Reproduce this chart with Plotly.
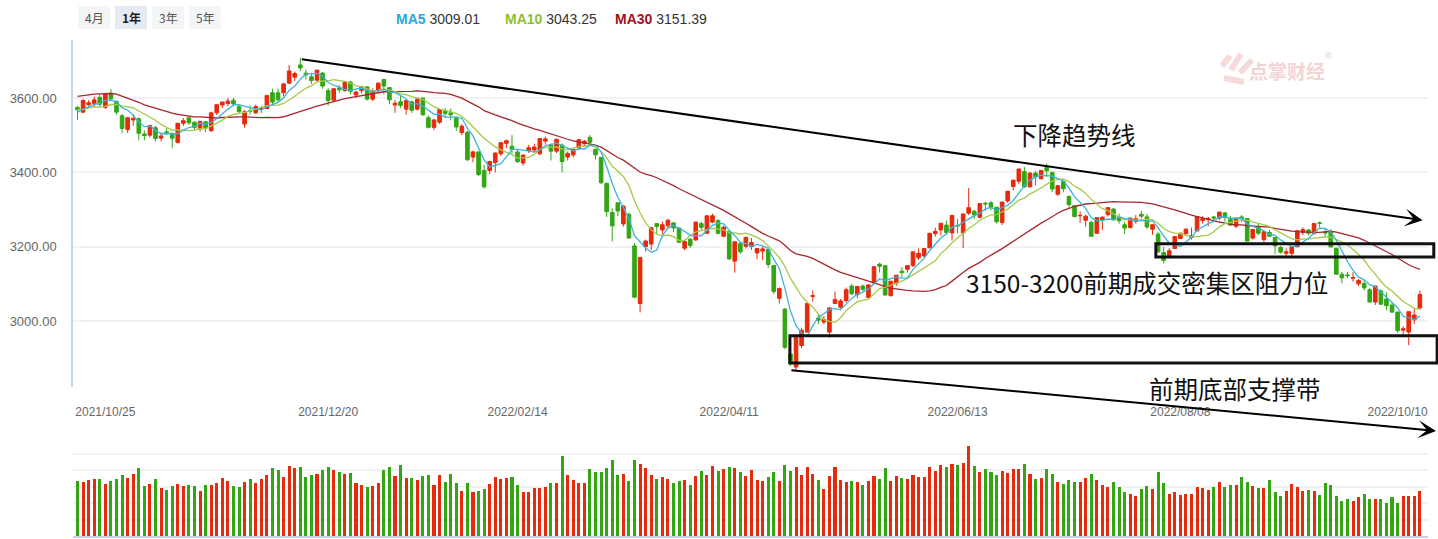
import pandas as pd
import numpy as np
import plotly.graph_objects as go

# ---------------- data ----------------
holidays = ["2022-01-03", "2022-01-31", "2022-02-01", "2022-02-02", "2022-02-03", "2022-02-04",
            "2022-04-04", "2022-04-05", "2022-05-02", "2022-05-03", "2022-05-04", "2022-06-03",
            "2022-09-12", "2022-10-03", "2022-10-04", "2022-10-05", "2022-10-06", "2022-10-07"]
dates = [d.strftime("%Y/%m/%d") for d in pd.bdate_range("2021-10-18", "2022-10-14")
         if d.strftime("%Y-%m-%d") not in holidays]

opens = [3575, 3562, 3582, 3585, 3602, 3575, 3613, 3591, 3552, 3515,
         3541, 3544, 3503, 3500, 3520, 3492, 3509, 3505, 3480, 3532,
         3547, 3535, 3517, 3536, 3512, 3560, 3581, 3585, 3594, 3577,
         3530, 3566, 3560, 3570, 3572, 3614, 3614, 3614, 3640, 3656,
         3689, 3667, 3657, 3648, 3667, 3620, 3594, 3627, 3620, 3643,
         3608, 3620, 3630, 3597, 3620, 3650, 3628, 3581, 3590, 3570,
         3590, 3570, 3600, 3547, 3521, 3535, 3565, 3560, 3546, 3507,
         3508, 3441, 3455, 3405, 3405, 3426, 3450, 3478, 3470, 3455,
         3425, 3458, 3460, 3450, 3484, 3474, 3457, 3473, 3441, 3447,
         3466, 3478, 3494, 3462, 3440, 3370, 3292, 3318, 3261, 3287,
         3202, 3047, 3200, 3207, 3262, 3245, 3256, 3264, 3250, 3196,
         3220, 3218, 3262, 3236, 3266, 3270, 3228, 3240, 3161, 3208,
         3201, 3200, 3183, 3188, 3192, 3149, 3061, 3032, 2911, 2876,
         2934, 2970, 3066, 3008, 2997, 2970, 3047, 3037, 3055, 3094,
         3071, 3094, 3063, 3102, 3153, 3149, 3068, 3101, 3134, 3139,
         3149, 3170, 3175, 3197, 3235, 3245, 3258, 3237, 3257, 3237,
         3290, 3295, 3279, 3317, 3318, 3306, 3265, 3323, 3362, 3376,
         3402, 3361, 3398, 3383, 3413, 3400, 3341, 3375, 3335, 3310,
         3283, 3271, 3265, 3236, 3273, 3286, 3301, 3276, 3259, 3251,
         3268, 3287, 3280, 3247, 3234, 3184, 3174, 3195, 3222, 3235,
         3225, 3242, 3270, 3274, 3280, 3277, 3291, 3276, 3255, 3280,
         3276, 3223, 3253, 3219, 3238, 3225, 3198, 3182, 3182, 3200,
         3238, 3245, 3236, 3264, 3239, 3240, 3196, 3126, 3124, 3115,
         3100, 3101, 3084, 3051, 3081, 3059, 3043, 3024, 2975, 2970,
         3003, 3035]
highs = [3578, 3598, 3594, 3604, 3610, 3614, 3624, 3593, 3557, 3548,
         3557, 3548, 3513, 3528, 3525, 3508, 3519, 3506, 3533, 3546,
         3551, 3537, 3539, 3538, 3563, 3584, 3590, 3600, 3600, 3581,
         3568, 3580, 3582, 3578, 3608, 3625, 3625, 3640, 3689, 3671,
         3708, 3676, 3668, 3676, 3670, 3627, 3627, 3635, 3644, 3646,
         3620, 3633, 3631, 3626, 3642, 3651, 3628, 3594, 3606, 3594,
         3593, 3601, 3601, 3553, 3544, 3571, 3573, 3572, 3549, 3530,
         3512, 3458, 3456, 3420, 3431, 3453, 3481, 3488, 3500, 3462,
         3449, 3474, 3477, 3492, 3496, 3478, 3490, 3478, 3456, 3463,
         3490, 3487, 3500, 3463, 3441, 3373, 3303, 3318, 3311, 3292,
         3210, 3171, 3219, 3253, 3262, 3267, 3275, 3264, 3252, 3219,
         3223, 3267, 3267, 3284, 3289, 3274, 3256, 3241, 3214, 3214,
         3227, 3223, 3196, 3200, 3194, 3150, 3090, 3035, 2939, 2961,
         2982, 3049, 3082, 3019, 3013, 3038, 3079, 3059, 3090, 3100,
         3094, 3098, 3099, 3148, 3157, 3149, 3108, 3124, 3145, 3149,
         3186, 3195, 3195, 3237, 3251, 3263, 3270, 3285, 3275, 3288,
         3358, 3300, 3317, 3321, 3323, 3307, 3320, 3350, 3380, 3409,
         3414, 3400, 3404, 3406, 3424, 3401, 3365, 3376, 3338, 3311,
         3295, 3286, 3269, 3278, 3282, 3305, 3304, 3289, 3266, 3277,
         3285, 3296, 3288, 3260, 3239, 3199, 3196, 3229, 3238, 3249,
         3251, 3281, 3282, 3280, 3283, 3293, 3291, 3283, 3277, 3285,
         3276, 3248, 3261, 3242, 3245, 3226, 3202, 3195, 3202, 3243,
         3252, 3247, 3264, 3268, 3247, 3247, 3196, 3132, 3132, 3131,
         3113, 3110, 3089, 3094, 3085, 3077, 3051, 3025, 2986, 3025,
         3032, 3082]
lows = [3541, 3559, 3577, 3575, 3575, 3570, 3594, 3555, 3505, 3506,
        3525, 3486, 3486, 3494, 3483, 3483, 3500, 3466, 3478, 3525,
        3528, 3513, 3510, 3508, 3509, 3554, 3573, 3578, 3578, 3559,
        3520, 3556, 3557, 3560, 3570, 3580, 3590, 3605, 3638, 3645,
        3672, 3650, 3638, 3645, 3625, 3580, 3590, 3614, 3617, 3610,
        3600, 3612, 3593, 3592, 3616, 3610, 3583, 3560, 3573, 3555,
        3560, 3566, 3552, 3518, 3514, 3530, 3547, 3540, 3511, 3500,
        3430, 3427, 3390, 3356, 3395, 3400, 3444, 3465, 3450, 3425,
        3418, 3452, 3453, 3446, 3475, 3432, 3452, 3400, 3432, 3440,
        3460, 3468, 3475, 3435, 3369, 3280, 3214, 3282, 3254, 3222,
        3061, 3023, 3187, 3191, 3234, 3234, 3248, 3239, 3209, 3190,
        3196, 3216, 3244, 3235, 3263, 3233, 3225, 3164, 3130, 3180,
        3195, 3191, 3166, 3164, 3143, 3073, 3047, 2924, 2879, 2863,
        2927, 2969, 3052, 2992, 2991, 2955, 3046, 3033, 3050, 3070,
        3061, 3080, 3062, 3102, 3130, 3067, 3066, 3094, 3118, 3130,
        3145, 3164, 3172, 3195, 3227, 3230, 3232, 3217, 3236, 3196,
        3285, 3274, 3276, 3296, 3298, 3262, 3258, 3318, 3351, 3368,
        3358, 3359, 3365, 3380, 3388, 3347, 3337, 3346, 3303, 3279,
        3264, 3254, 3227, 3234, 3245, 3281, 3271, 3262, 3234, 3250,
        3262, 3275, 3248, 3232, 3184, 3155, 3168, 3195, 3222, 3229,
        3219, 3242, 3262, 3255, 3266, 3272, 3267, 3256, 3250, 3266,
        3214, 3219, 3231, 3212, 3226, 3180, 3181, 3174, 3170, 3198,
        3231, 3230, 3232, 3251, 3226, 3199, 3124, 3101, 3115, 3106,
        3094, 3082, 3050, 3043, 3045, 3029, 3021, 2968, 2960, 2935,
        2992, 3031]
closes = [3568, 3593, 3587, 3595, 3583, 3610, 3598, 3562, 3518, 3547,
          3545, 3505, 3499, 3526, 3491, 3498, 3507, 3492, 3532, 3539,
          3533, 3521, 3537, 3520, 3560, 3582, 3589, 3592, 3584, 3564,
          3563, 3564, 3577, 3573, 3607, 3589, 3595, 3638, 3673, 3666,
          3681, 3662, 3647, 3675, 3632, 3593, 3625, 3622, 3643, 3618,
          3616, 3630, 3597, 3619, 3640, 3632, 3595, 3586, 3580, 3593,
          3567, 3597, 3555, 3521, 3541, 3569, 3558, 3555, 3522, 3524,
          3434, 3455, 3394, 3361, 3429, 3452, 3480, 3485, 3462, 3429,
          3446, 3466, 3468, 3491, 3490, 3457, 3489, 3429, 3451, 3462,
          3488, 3484, 3481, 3447, 3372, 3294, 3256, 3296, 3309, 3223,
          3064, 3171, 3215, 3251, 3254, 3259, 3271, 3250, 3212, 3214,
          3203, 3266, 3252, 3283, 3283, 3236, 3252, 3167, 3213, 3186,
          3225, 3211, 3195, 3194, 3152, 3079, 3087, 2929, 2886, 2958,
          2975, 3047, 3068, 3002, 3004, 3035, 3058, 3054, 3084, 3073,
          3093, 3085, 3097, 3146, 3147, 3070, 3107, 3123, 3130, 3149,
          3186, 3182, 3195, 3236, 3241, 3263, 3238, 3284, 3256, 3288,
          3305, 3285, 3316, 3315, 3306, 3267, 3320, 3349, 3379, 3409,
          3361, 3398, 3388, 3405, 3404, 3355, 3364, 3356, 3313, 3281,
          3284, 3282, 3228, 3278, 3279, 3305, 3272, 3270, 3250, 3277,
          3275, 3282, 3253, 3259, 3186, 3163, 3189, 3227, 3236, 3247,
          3230, 3281, 3276, 3276, 3277, 3293, 3278, 3258, 3277, 3276,
          3215, 3246, 3236, 3240, 3228, 3202, 3185, 3186, 3199, 3243,
          3246, 3236, 3262, 3263, 3237, 3199, 3126, 3116, 3122, 3117,
          3109, 3089, 3051, 3094, 3045, 3041, 3024, 2974, 2979, 3025,
          3016, 3071]
volumes = [333, 327, 339, 345, 345, 315, 333, 345, 370, 351,
           376, 412, 303, 315, 345, 291, 279, 303, 315, 303,
           309, 303, 273, 309, 309, 321, 351, 333, 303, 297,
           327, 345, 321, 345, 370, 412, 400, 358, 424, 412,
           418, 358, 370, 376, 400, 418, 400, 388, 376, 382,
           321, 309, 297, 303, 321, 400, 418, 364, 430, 351,
           351, 339, 364, 370, 309, 370, 327, 376, 321, 273,
           321, 267, 273, 285, 315, 358, 345, 351, 358, 309,
           267, 267, 291, 291, 297, 321, 321, 485, 370, 339,
           321, 321, 406, 388, 388, 412, 461, 370, 376, 333,
           461, 436, 412, 370, 345, 358, 345, 321, 333, 339,
           309, 364, 394, 370, 424, 394, 406, 418, 412, 388,
           364, 400, 339, 333, 358, 388, 333, 430, 394, 416,
           370, 416, 376, 339, 285, 364, 416, 339, 327, 333,
           327, 309, 333, 364, 345, 412, 333, 364, 351, 345,
           370, 358, 358, 416, 394, 430, 416, 436, 430, 442,
           545, 424, 388, 406, 388, 370, 394, 382, 406, 406,
           436, 376, 345, 351, 406, 376, 327, 315, 339, 327,
           327, 351, 376, 339, 309, 297, 327, 297, 267, 255,
           242, 285, 303, 285, 388, 321, 255, 267, 248, 255,
           255, 297, 291, 279, 297, 327, 297, 309, 309, 358,
           327, 303, 291, 291, 339, 267, 242, 273, 315, 297,
           273, 279, 273, 248, 321, 309, 242, 212, 224, 212,
           236, 255, 224, 224, 224, 200, 236, 200, 242, 242,
           242, 273]
# closes of the 29 sessions before the first candle (for the moving averages)
pre_closes = [3522, 3528, 3544, 3567, 3597, 3581, 3621, 3676, 3693, 3693,
              3703, 3715, 3662, 3656, 3607, 3613, 3628, 3642, 3613, 3582,
              3602, 3536, 3568, 3592, 3591, 3547, 3561, 3558, 3572]
tick_dates = ["2021/10/25", "2021/12/20", "2022/02/14", "2022/04/11",
              "2022/06/13", "2022/08/08", "2022/10/10"]
ma_header = {"MA5": "3009.01", "MA10": "3043.25", "MA30": "3151.39"}

# ---------------- derived ----------------
n = len(dates)
xs = list(range(n))
allc = pd.Series(pre_closes + closes, dtype=float)
ma5 = allc.rolling(5).mean().iloc[len(pre_closes):].tolist()
ma10 = allc.rolling(10).mean().iloc[len(pre_closes):].tolist()
ma30 = allc.rolling(30).mean().iloc[len(pre_closes):].tolist()

RED = "#e62a0c"
GREEN = "#33a614"
vol_colors = [RED if c >= o else GREEN for o, c in zip(opens, closes)]

# ---------------- geometry ----------------
W, H = 1438, 539
ML, MR = 73, 10
PW = W - ML - MR
X0, X1 = -0.81, 242.46
Y0, Y1 = 2822.3, 3756.1
D0, D1 = 1 - 387 / H, 1 - 40 / H
V0, V1 = 1 - 536 / H, 1 - 437 / H


def px_x(px):
    return (px - ML) / PW


def px_y(py):
    return 1 - py / H


def dx(i):
    return (i - X0) / (X1 - X0)


def dy(p):
    return D0 + (p - Y0) / (Y1 - Y0) * (D1 - D0)


def to_px(i, p):
    return ML + dx(i) * PW, (1 - dy(p)) * H


fig = go.Figure()
fig.add_trace(go.Candlestick(
    x=xs, open=opens, high=highs, low=lows, close=closes,
    increasing=dict(line=dict(color=RED, width=1), fillcolor=RED),
    decreasing=dict(line=dict(color=GREEN, width=1), fillcolor=GREEN),
    whiskerwidth=0, hoverinfo="skip", xaxis="x", yaxis="y"))
fig.add_trace(go.Scatter(x=xs, y=ma30, mode="lines", line=dict(color="#a8262c", width=1.3),
                         hoverinfo="skip", xaxis="x", yaxis="y"))
fig.add_trace(go.Scatter(x=xs, y=ma10, mode="lines", line=dict(color="#a3cb4a", width=1.3),
                         hoverinfo="skip", xaxis="x", yaxis="y"))
fig.add_trace(go.Scatter(x=xs, y=ma5, mode="lines", line=dict(color="#3db3dd", width=1.3),
                         hoverinfo="skip", xaxis="x", yaxis="y"))
fig.add_trace(go.Bar(x=xs, y=volumes, marker=dict(color=vol_colors, line=dict(width=0)),
                     width=0.55, hoverinfo="skip", xaxis="x2", yaxis="y2"))

tickvals = [dates.index(d) for d in tick_dates]

fig.update_layout(
    width=W, height=H, margin=dict(l=ML, r=MR, t=0, b=0),
    paper_bgcolor="white", plot_bgcolor="white", showlegend=False,
    boxgap=0.35, boxgroupgap=0, bargap=0,
    font=dict(family="Noto Sans CJK SC, Noto Sans, sans-serif", color="#666"),
    xaxis=dict(domain=[0, 1], range=[X0, X1], anchor="y", tickvals=tickvals, ticktext=tick_dates,
               showgrid=False, zeroline=False, showline=False, ticks="",
               tickfont=dict(size=12, color="#666", family="Liberation Sans, Arial, sans-serif"),
               ticklabelstandoff=16, rangeslider=dict(visible=False), fixedrange=True),
    yaxis=dict(domain=[D0, D1], range=[Y0, Y1], tickvals=[3000, 3200, 3400, 3600],
               tickformat=".2f", showgrid=True, gridcolor="#f0f2f5", gridwidth=2,
               zeroline=False, showline=True, linecolor="#c5d5ea", linewidth=1.5, ticks="",
               tickfont=dict(size=13, color="#666", family="Liberation Sans, Arial, sans-serif"),
               ticklabelstandoff=12),
    xaxis2=dict(domain=[0, 1], range=[X0, X1], anchor="y2", matches="x", showticklabels=False,
                showgrid=False, zeroline=False, showline=True, linecolor="#c9d0ee", linewidth=2,
                ticks=""),
    yaxis2=dict(domain=[V0, V1], range=[0, 600], dtick=100, showticklabels=False,
                showgrid=True, gridcolor="#f0f2f5", gridwidth=2, zeroline=False, ticks=""),
)

# ---------------- header controls ----------------
shapes = []
annotations = []


def label(x, y, text, font, xanchor="center"):
    annotations.append(dict(xref="paper", yref="paper", x=x, y=y, text=text, showarrow=False,
                            xanchor=xanchor, yanchor="middle", font=font))


buttons = [("4月", 78, 110, False), ("1年", 115, 147, True), ("3年", 152, 184, False),
           ("5年", 189, 221, False)]
for lab, x0p, x1p, sel in buttons:
    shapes.append(dict(type="rect", xref="paper", yref="paper", x0=px_x(x0p), x1=px_x(x1p),
                       y0=px_y(29), y1=px_y(6), line=dict(width=0),
                       fillcolor="#e6ebf3" if sel else "#f4f5f7", layer="below"))
    label(px_x((x0p + x1p) / 2), px_y(17.5), f"<b>{lab}</b>" if sel else lab,
          dict(size=12, color="#222" if sel else "#555", family="Noto Sans CJK SC"))

ma_items = [("MA5", "#2aa7d8", 394), ("MA10", "#8fbf2c", 503), ("MA30", "#a3121c", 613)]
for name, col, xp in ma_items:
    label(px_x(xp), px_y(19),
          f"<b><span style='color:{col}'>{name}</span></b> "
          f"<span style='color:#333'>{ma_header[name]}</span>",
          dict(size=14, family="Liberation Sans, Arial, sans-serif"), xanchor="left")

# watermark
label(px_x(1287), px_y(70), "<b>点掌财经</b>",
      dict(size=19, color="#f3d3d3", family="Noto Sans CJK SC"))
label(px_x(1328), px_y(56), "®", dict(size=9, color="#f0cfcf", family="DejaVu Sans"))
for (x0p, y0p, x1p, y1p) in [(1222, 66, 1230, 56), (1231, 70, 1241, 54), (1240, 73, 1252, 60),
                             (1224, 78, 1244, 82)]:
    shapes.append(dict(type="line", xref="paper", yref="paper", x0=px_x(x0p), y0=px_y(y0p),
                       x1=px_x(x1p), y1=px_y(y1p), line=dict(color="#f5dada", width=6),
                       layer="below"))

# ---------------- drawn analysis ----------------
# downtrend line from the December high
annotations.append(dict(xref="x", yref="y", axref="x", ayref="y",
                        x=241.5, y=3271, ax=40, ay=3705,
                        showarrow=True, arrowhead=3, arrowsize=1.5, arrowwidth=2,
                        arrowcolor="black", text=""))
# lower line from the April low
tail_px = to_px(127.9, 2868)
head_px = (1436, 431)
annotations.append(dict(xref="paper", yref="paper", x=px_x(head_px[0]), y=px_y(head_px[1]),
                        ax=tail_px[0] - head_px[0], ay=tail_px[1] - head_px[1],
                        axref="pixel", ayref="pixel",
                        showarrow=True, arrowhead=3, arrowsize=1.5, arrowwidth=2,
                        arrowcolor="black", text=""))

boxes = [(193.6, 243.5, 3172, 3208), (127.9, 244.1, 2887, 2960)]
for i0, i1, p0, p1 in boxes:
    shapes.append(dict(type="rect", xref="paper", yref="paper", x0=dx(i0), x1=dx(i1),
                       y0=dy(p0), y1=dy(p1), line=dict(color="#111", width=3),
                       fillcolor="rgba(0,0,0,0)", layer="above"))

texts = [("下降趋势线", 1074, 134), ("3150-3200前期成交密集区阻力位", 1147, 282),
         ("前期底部支撑带", 1235, 388)]
for t, xp, yp in texts:
    label(px_x(xp), px_y(yp), t, dict(size=24.5, color="#111", family="Noto Sans CJK SC"))

fig.update_layout(shapes=shapes, annotations=annotations)
fig.write_html("out.html")
